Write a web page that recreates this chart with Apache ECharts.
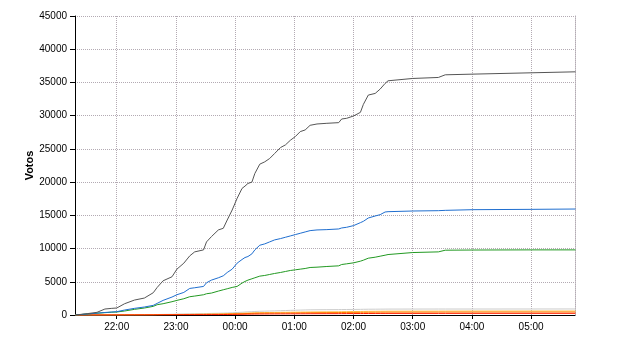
<!DOCTYPE html>
<html><head><meta charset="utf-8">
<script src="https://cdn.jsdelivr.net/npm/echarts@6/dist/echarts.min.js"></script>
<style>html,body{margin:0;padding:0;background:#fff}#c{width:640px;height:350px}</style>
</head><body><div id="c"></div>
<script>
// minutes relative to 22:00
var times = [-42,-30,-20,-12,-5,0,8,18,28,37, 41,47,56,61,68,74,79,88,91,96, 103,108,112,117,122,127,130,133,137,140, 145,150,155,160,166,171,176,181,186,191, 196,203,213,225,228,233,240,247,250,255, 262,267,272,275,300,326,333,361,420,465];
var seriesGray = [0,200,400,900,1000,1050,1700,2250,2550,3350, 4150,5150,5750,6900,7800,8900,9500,9800,11000,11800, 12800,13050,14300,15800,17550,19050,19400,19800,20000,21300, 22700,23050,23550,24300,25200,25600,26300,26850,27600,27850, 28550,28750,28850,28950,29500,29600,29950,30500,31700,33100, 33350,34000,34850,35250,35600,35750,36150,36250,36450,36600];
var seriesBlue = [0,150,280,380,450,500,750,1000,1200,1450, 1750,2200,2700,3050,3400,4000,4100,4300,4850,5250, 5600,5900,6400,6900,7800,8350,8650,8800,9200,9800, 10500,10700,11000,11300,11500,11700,11900,12100,12300,12500, 12700,12800,12850,12950,13100,13200,13450,13900,14100,14600, 14900,15100,15500,15550,15650,15700,15750,15850,15900,15950];
var seriesGreen = [0,150,270,350,420,450,600,850,1050,1300, 1550,1700,2000,2200,2450,2750,2850,3050,3200,3300, 3600,3800,3950,4150,4300,4800,5050,5250,5450,5600, 5850,5950,6100,6250,6400,6550,6700,6800,6900,7000, 7150,7200,7300,7400,7600,7700,7850,8100,8250,8550, 8700,8850,9000,9100,9400,9500,9750,9780,9800,9800];
var seriesLightGray = [0,0,5,10,15,20,30,40,50,60, 70,90,110,130,150,170,180,200,220,240, 260,280,300,330,380,420,450,480,500,530, 560,580,600,620,650,670,700,720,740,760, 780,790,800,810,820,830,840,850,860,870, 875,880,885,890,895,900,900,900,905,910];
var seriesLightOrange = [0,0,3,6,10,15,20,25,30,40, 50,60,70,80,90,100,110,120,130,140, 150,170,190,210,240,260,280,300,320,340, 360,370,380,390,400,410,420,430,440,450, 460,470,480,490,500,510,520,530,540,550, 560,565,570,575,580,585,590,595,600,600];
var seriesOrange = [0,0,2,4,7,10,15,18,22,30, 38,45,52,60,68,75,82,90,98,105, 112,128,142,158,180,195,210,225,240,255, 270,278,285,292,300,308,315,322,330,338, 345,352,360,368,375,382,390,398,405,412, 420,424,428,431,435,439,442,446,450,450];
var seriesRed = [0,0,1,2,4,6,8,10,12,16, 20,25,29,33,38,42,46,50,54,58, 62,71,79,88,100,108,117,125,133,142, 150,154,158,162,167,171,175,179,183,188, 192,196,200,204,208,212,217,221,225,229, 233,236,238,240,242,244,246,248,250,250];
var tickMinutes = [0,60,120,180,240,300,360,420];
var tickLabels = ['22:00','23:00','00:00','01:00','02:00','03:00','04:00','05:00'];
var yMax = 45000, yStep = 5000;
var xMin = -42.3, xMax = 464.5;

function pairs(vals){ return times.map(function(t,i){ return [t, vals[i]]; }); }
var GC = '#b3aab3';
var gridLine = {show:true, lineStyle:{color:GC, type:[1,1], width:1}};
function mk(name, vals, color, z){
  return {name:name, type:'line', data:pairs(vals), showSymbol:false, symbol:'none',
    lineStyle:{color:color, width:1}, itemStyle:{color:color}, z:z, animation:false};
}
var FF = 'Liberation Sans, Arial, sans-serif';
var chart = echarts.init(document.getElementById('c'), null, {renderer:'canvas'});
chart.setOption({
  animation:false,
  backgroundColor:'#fff',
  textStyle:{fontFamily:FF},
  grid:{left:75, right:65, top:16, bottom:35, containLabel:false},
  xAxis:{type:'value', min:xMin, max:xMax,
    axisLine:{show:true, onZero:false, lineStyle:{color:'#000', width:1}},
    axisTick:{show:true, length:4, customValues:tickMinutes, lineStyle:{color:'#000'}},
    axisLabel:{customValues:tickMinutes, color:'#000', fontSize:10, margin:7, fontFamily:FF,
      formatter:function(v){ var i = tickMinutes.indexOf(v); return i>=0 ? tickLabels[i] : ''; }},
    splitLine:gridLine},
  yAxis:[{type:'value', min:0, max:yMax, interval:yStep,
    name:'Votos', nameLocation:'middle', nameGap:40, nameRotate:90, nameMoveOverlap:false,
    nameTextStyle:{color:'#000', fontSize:11, fontWeight:'bold', fontFamily:FF},
    axisLine:{show:true, onZero:false, lineStyle:{color:'#000', width:1}},
    axisTick:{show:true, length:5, lineStyle:{color:'#000'}},
    axisLabel:{color:'#000', fontSize:10, margin:8, fontFamily:FF,
      formatter:function(v){ return String(v); }},
    splitLine:gridLine},
   {type:'value', min:0, max:yMax, interval:yStep, position:'right',
    axisLine:{show:true, onZero:false, lineStyle:{color:GC, type:[1,1], width:1}},
    axisTick:{show:false}, axisLabel:{show:false}, splitLine:{show:false}}],
  series:[
    mk('lightgray', seriesLightGray, '#cccccc', 2),
    mk('lightorange', seriesLightOrange, '#ffc04d', 3),
    mk('orange', seriesOrange, '#ff8000', 4),
    mk('red', seriesRed, '#ff2000', 5),
    mk('green', seriesGreen, '#229922', 6),
    mk('blue', seriesBlue, '#1f6ecf', 7),
    mk('gray', seriesGray, '#555555', 8)
  ]
});
</script></body></html>
